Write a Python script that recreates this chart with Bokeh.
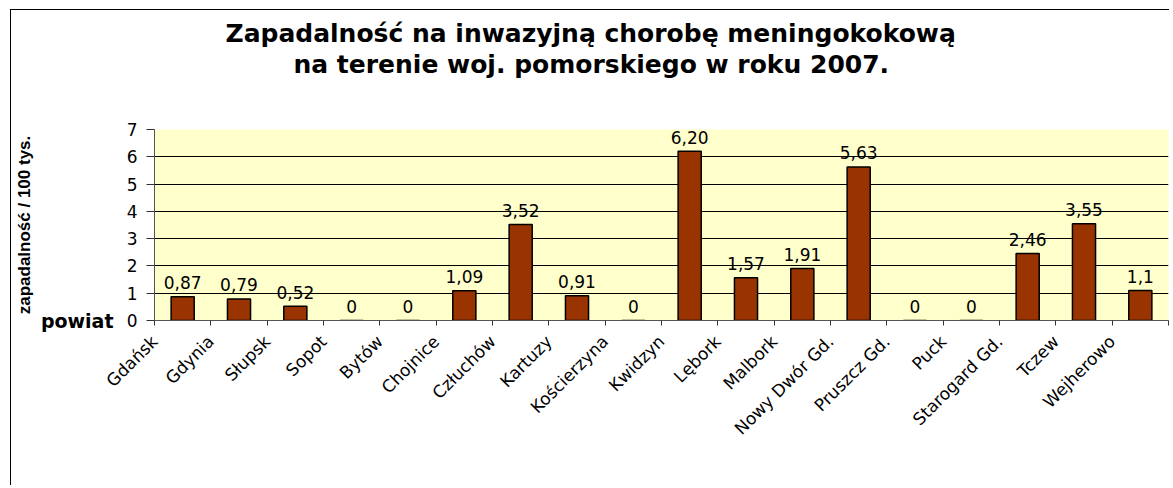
import math
from bokeh.plotting import figure
from bokeh.models import (ColumnDataSource, FixedTicker, Range1d, Title, LinearAxis)
from bokeh.core.properties import value
from bokeh.embed import file_html
from bokeh.resources import INLINE

# ---- data ----
powiaty = ["Gdańsk", "Gdynia", "Słupsk", "Sopot", "Bytów", "Chojnice", "Człuchów",
           "Kartuzy", "Kościerzyna", "Kwidzyn", "Lębork", "Malbork", "Nowy Dwór Gd.",
           "Pruszcz Gd.", "Puck", "Starogard Gd.", "Tczew", "Wejherowo"]
zapadalnosc = [0.87, 0.79, 0.52, 0, 0, 1.09, 3.52, 0.91, 0, 6.20, 1.57, 1.91, 5.63,
               0, 0, 2.46, 3.55, 1.1]
etykiety = ["0,87", "0,79", "0,52", "0", "0", "1,09", "3,52", "0,91", "0", "6,20",
            "1,57", "1,91", "5,63", "0", "0", "2,46", "3,55", "1,1"]
y_ticks = [0, 1, 2, 3, 4, 5, 6, 7]
title_1 = "Zapadalność na inwazyjną chorobę meningokokową"
title_2 = "na terenie woj. pomorskiego w roku 2007."
y_title = "zapadalność / 100 tys."
x_title = "powiat"

n = len(powiaty)
src = ColumnDataSource(dict(
    x=[i + 0.5 for i in range(n)],
    top=zapadalnosc,
    lab=etykiety,
))

W, H = 1159, 476
p = figure(width=W, height=H, output_backend="svg", toolbar_location=None,
           x_range=Range1d(0, n), y_range=Range1d(0, 7),
           min_border_left=141, min_border_right=2, min_border_bottom=166,
           min_border_top=119, margin=(9, 0, 0, 10),
           styles={"border-left": "1px solid black", "border-top": "1px solid black"})

p.background_fill_color = "#FFFFCC"
p.border_fill_color = "white"
p.outline_line_color = None

# titles: spacer panel next to the frame, then line 2, then line 1
spacer = Title(text=" ", text_font_size="10px", standoff=38)
t2 = Title(text=title_2, align="left", offset=139, standoff=0, vertical_align="bottom",
           text_font="DejaVu Sans", text_font_size="25px", text_font_style="bold",
           text_color="black")
t1 = Title(text=title_1, align="left", offset=71, standoff=0, vertical_align="bottom",
           text_font="DejaVu Sans", text_font_size="25px", text_font_style="bold",
           text_color="black")
p.add_layout(spacer, "above")
p.add_layout(t2, "above")
p.add_layout(t1, "above")

# bars
p.vbar(x="x", top="top", bottom=0, width=0.41, source=src,
       fill_color="#993300", line_color="black", line_width=1.5)

# value labels
p.text(x="x", y="top", text="lab", source=src, y_offset=-14,
       text_align="center", text_baseline="alphabetic",
       text_font=value("DejaVu Sans"), text_font_size="17px", text_color="black")

# grid
p.xgrid.grid_line_color = None
p.ygrid.ticker = FixedTicker(ticks=y_ticks)
p.ygrid.grid_line_color = "black"
p.ygrid.grid_line_width = 1

# main y axis (numbers)
p.yaxis.ticker = FixedTicker(ticks=y_ticks)
p.yaxis.major_label_text_font = "DejaVu Sans"
p.yaxis.major_label_text_font_size = "17px"
p.yaxis.major_label_text_color = "black"
p.yaxis.major_tick_out = 8
p.yaxis.major_tick_in = 0
p.yaxis.minor_tick_line_color = None
p.yaxis.major_label_standoff = 9
p.yaxis.axis_line_color = "#555555"
p.yaxis.major_tick_line_color = "#333333"

# outer left axis: carries the "powiat" caption at the x-axis level and the y title
outer = LinearAxis(ticker=FixedTicker(ticks=[0]),
                   major_label_overrides={0: x_title},
                   axis_line_color=None, major_tick_line_color=None,
                   minor_tick_line_color=None, major_tick_out=0, major_tick_in=0,
                   major_label_standoff=10,
                   major_label_text_font="DejaVu Sans",
                   major_label_text_font_size="19px",
                   major_label_text_font_style="bold",
                   major_label_text_color="black",
                   axis_label=y_title, axis_label_standoff=4,
                   axis_label_text_font="Liberation Sans",
                   axis_label_text_font_size="17px",
                   axis_label_text_font_style="bold",
                   axis_label_text_color="black")
p.add_layout(outer, "left")

# x axis
p.xaxis.ticker = FixedTicker(ticks=list(range(n + 1)))
p.xaxis.major_label_overrides = {i: (powiaty[i] if i < n else "") for i in range(n + 1)}
p.xaxis.major_label_orientation = math.pi / 4
p.xaxis.major_label_text_font = "DejaVu Sans"
p.xaxis.major_label_text_font_size = "17px"
p.xaxis.major_label_text_color = "black"
p.xaxis.major_tick_out = 5
p.xaxis.major_tick_in = 0
p.xaxis.minor_tick_line_color = None
p.xaxis.major_label_standoff = 13
p.xaxis.axis_line_color = "#555555"
p.xaxis.major_tick_line_color = "#333333"

open("out.html", "w").write(file_html(p, INLINE))
